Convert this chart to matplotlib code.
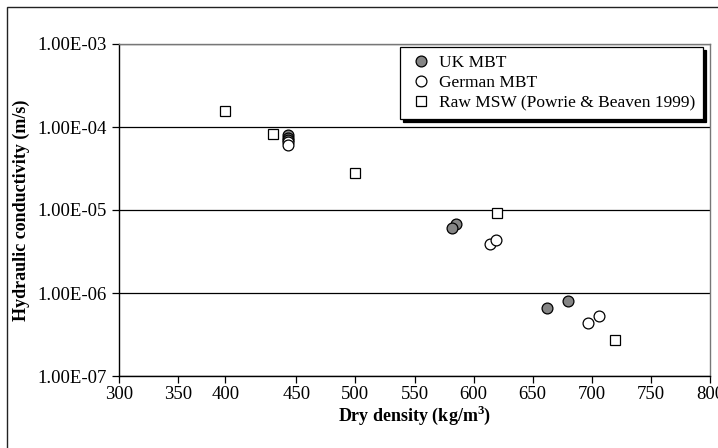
import matplotlib
matplotlib.use("Agg")
import matplotlib.pyplot as plt
from matplotlib.patches import Rectangle
from matplotlib.ticker import FuncFormatter, NullLocator

plt.rcParams['font.family'] = ['Liberation Serif', 'DejaVu Serif']
plt.rcParams['mathtext.fontset'] = 'custom'
plt.rcParams['mathtext.rm'] = 'Liberation Serif:bold'
plt.rcParams['mathtext.bf'] = 'Liberation Serif:bold'

# Data (dry density kg/m3, hydraulic conductivity m/s)
uk_x = [443, 443, 443, 585, 582, 662, 680]
uk_y = [7.9e-5, 7.4e-5, 7.0e-5, 6.7e-6, 6.0e-6, 6.6e-7, 8.0e-7]

ger_x = [443, 443, 614, 619, 697, 706]
ger_y = [6.6e-5, 6.1e-5, 3.9e-6, 4.3e-6, 4.4e-7, 5.3e-7]

raw_x = [390, 430, 500, 620, 720]
raw_y = [1.55e-4, 8.3e-5, 2.8e-5, 9.1e-6, 2.7e-7]

xtick_pos = [300, 350, 390, 450, 500, 550, 600, 650, 700, 750, 800]
xtick_labels = ['300', '350', '400', '450', '500', '550', '600', '650', '700', '750', '800']
ytick_vals = [1e-7, 1e-6, 1e-5, 1e-4, 1e-3]

W, H = 718, 448
fig = plt.figure(figsize=(W / 100, H / 100), dpi=100)
ax = fig.add_axes([119 / W, 1 - 376 / H, (710 - 119) / W, (376 - 44) / H])

# outer frame
fig.patches.append(Rectangle((7 / W, -0.05), 1.2, 1 - 7.5 / H + 0.05, transform=fig.transFigure,
                             fill=False, edgecolor='#222222', linewidth=1.0))

ax.set_yscale('log')
ax.set_ylim(1e-7, 1e-3)
ax.set_xlim(300, 800)

ax.plot(uk_x, uk_y, linestyle='none', marker='o', markersize=7.8, markerfacecolor='#858585',
        markeredgecolor='black', markeredgewidth=0.9, label='UK MBT', zorder=3)
ax.plot(ger_x, ger_y, linestyle='none', marker='o', markersize=7.8, markerfacecolor='white',
        markeredgecolor='black', markeredgewidth=0.9, label='German MBT', zorder=3)
ax.plot(raw_x, raw_y, linestyle='none', marker='s', markersize=6.5, markerfacecolor='white',
        markeredgecolor='black', markeredgewidth=0.9, label='Raw MSW (Powrie & Beaven 1999)', zorder=3)

ax.set_yticks(ytick_vals)
ax.yaxis.set_minor_locator(NullLocator())
ax.yaxis.set_major_formatter(FuncFormatter(lambda v, p: f"{v:.2E}"))
ax.set_xticks(xtick_pos)
ax.set_xticklabels(xtick_labels)

ax.grid(axis='y', color='black', linewidth=0.9)
ax.set_axisbelow(True)
ax.tick_params(axis='both', direction='out', length=5, width=0.9, labelsize=13.5, color='black')
ax.tick_params(axis='x', pad=2)
ax.tick_params(axis='y', pad=4)

for s in ['left', 'bottom']:
    ax.spines[s].set_color('black')
    ax.spines[s].set_linewidth(1.0)
for s in ['top', 'right']:
    ax.spines[s].set_color('#777777')
    ax.spines[s].set_linewidth(1.0)

ax.set_xlabel('Dry density (kg/m$^{3}$)', fontsize=13, fontweight='bold', labelpad=1)
ax.set_ylabel('Hydraulic conductivity (m/s)', fontsize=13, fontweight='bold', labelpad=5)

leg = ax.legend(loc='upper right', bbox_to_anchor=(0.988, 0.99), fontsize=12.5, frameon=True,
                fancybox=False, edgecolor='black', framealpha=1,
                shadow={'color': 'black', 'alpha': 1.0}, borderpad=0.45, labelspacing=0.22,
                handletextpad=0.3, handlelength=1.5, borderaxespad=0)
leg.get_frame().set_linewidth(0.9)

fig.savefig('out.png', dpi=100)
